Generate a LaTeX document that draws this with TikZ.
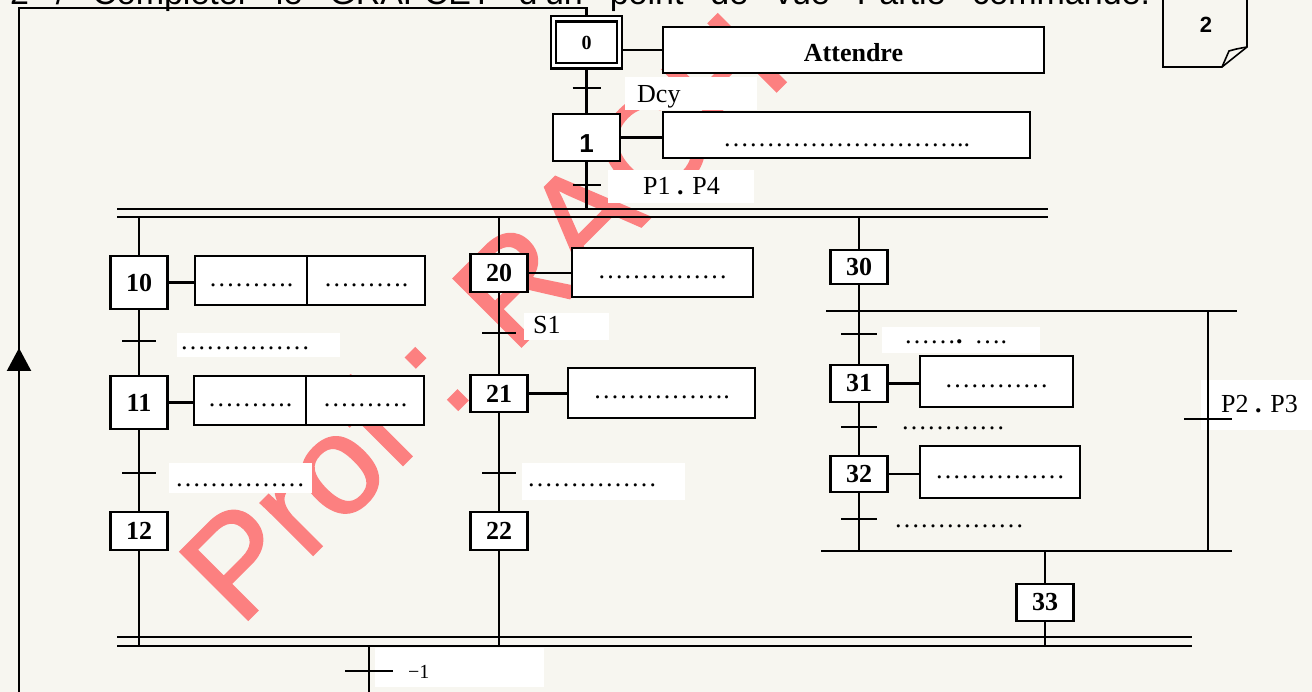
\documentclass[tikz,border=0pt]{standalone}
\usepackage{fontspec}
\setmainfont{Liberation Serif}
\newfontfamily\sansf{Liberation Sans}
\newfontfamily\stampf[FakeBold=1.3]{Liberation Sans}
\usetikzlibrary{calc,arrows.meta}
\definecolor{paper}{RGB}{247,246,240}
\definecolor{stamp}{RGB}{252,128,128}

\tikzset{
  ln/.style={line width=2.2pt},
  stepbox/.style={draw, line width=2.2pt, fill=white, inner sep=0pt, minimum width=57pt,
    font=\fontsize{26}{28}\selectfont\bfseries},
  actbox/.style={draw, line width=2.2pt, fill=white, inner sep=0pt,
    font=\fontsize{26}{28}\selectfont, text height=12pt, text depth=0pt},
  trlabel/.style={anchor=base west, inner sep=0pt, font=\fontsize{26}{28}\selectfont},
  patch/.style={fill=white},
}

\begin{document}
\begin{tikzpicture}[x=1pt,y=-1pt]
\useasboundingbox (0,0) rectangle (1312,692);
\fill[paper] (0,0) rectangle (1312,692);

% author stamp behind the chart
\node[anchor=base west, inner sep=0pt, rotate=45, text=stamp,
      font=\stampf\fontsize{140}{140}\selectfont] (stamp) at (240,628) {Prof : RACH};

% white text-box backgrounds of the receptivities
\fill[patch] (625,77) rectangle (757,110);
\fill[patch] (608,170) rectangle (754,203);
\fill[patch] (524,313) rectangle (609,340);
\fill[patch] (177,333) rectangle (340,357);
\fill[patch] (169,463) rectangle (312,493);
\fill[patch] (522,463) rectangle (685,500);
\fill[patch] (882,327) rectangle (1040,353);
\fill[patch] (1201,380) rectangle (1312,430);
\fill[patch] (375,648) rectangle (544,687);

% heading
\node[anchor=base west, inner sep=0pt, font=\sansf\fontsize{34}{36}\selectfont] (title) at (10,5)
  {\makebox[1140pt][s]{2 / Compléter le GRAFCET d’un point de vue Partie commande.}};

% page marker
\draw[line width=1.6pt] (1163,-5) -- (1163,67) -- (1222,67) -- (1247,47) -- (1247,-5);
\draw[line width=1.6pt] (1222,67) -- (1229,51) .. controls (1236,49) .. (1247,47);
\node[font=\sansf\bfseries\fontsize{22}{24}\selectfont] (page) at (1206,24.5) {2};

% steps
\node[stepbox, double, double distance=3pt, outer sep=3.6pt, minimum width=66pt, minimum height=47pt,
      font=\fontsize{20}{22}\selectfont\bfseries] (s0) at (586.5,42.5) {0};
\node[stepbox, minimum width=67pt, minimum height=47pt, text height=30pt,
      font=\sansf\bfseries\fontsize{26}{28}\selectfont] (s1) at (586.5,137.5) {1};

\node[stepbox, minimum height=53pt] (s10) at (139,282.5) {10};
\node[stepbox, minimum height=53pt] (s11) at (139,402.5) {11};
\node[stepbox, minimum height=38pt] (s12) at (139,531) {12};

\node[stepbox, minimum height=38pt] (s20) at (499,273) {20};
\node[stepbox, minimum height=37pt] (s21) at (499,393.5) {21};
\node[stepbox, minimum height=38pt] (s22) at (499,531) {22};

\node[stepbox, minimum height=34pt] (s30) at (859,267) {30};
\node[stepbox, minimum height=37pt] (s31) at (859,383.5) {31};
\node[stepbox, minimum height=36pt] (s32) at (859,474) {32};
\node[stepbox, minimum height=37pt] (s33) at (1045,602.5) {33};

% actions
\node[actbox, minimum width=381pt, minimum height=46pt, text height=24pt, font=\fontsize{26}{28}\selectfont\bfseries]
  (a0) at (853.5,50) {Attendre};
\node[actbox, minimum width=367pt, minimum height=46pt, text height=24pt] (a1) at (846.5,135) {………………………..};
\node[actbox, minimum width=112pt, minimum height=49pt] (a10a) at (251,280.5) {……….};
\node[actbox, minimum width=118pt, minimum height=49pt] (a10b) at (366,280.5) {……….};
\node[actbox, minimum width=112pt, minimum height=49pt] (a11a) at (250,400.5) {……….};
\node[actbox, minimum width=118pt, minimum height=49pt] (a11b) at (365,400.5) {……….};
\node[actbox, minimum width=181pt, minimum height=49pt] (a20) at (662.5,272.5) {……………};
\node[actbox, minimum width=187pt, minimum height=50pt] (a21) at (661.5,393) {…………….};
\node[actbox, minimum width=153pt, minimum height=51pt] (a31) at (996.5,381.5) {…………};
\node[actbox, minimum width=160pt, minimum height=52pt] (a32) at (1000,472) {……………};

% step -> action links
\draw[ln] (a0.west) -- (a0.west -| s0.east);
\draw[ln] (s1.east) -- (s1.east -| a1.west);
\draw[ln] (s10.east) -- (s10.east -| a10a.west);
\draw[ln] (s11.east) -- (s11.east -| a11a.west);
\draw[ln] (s20.east) -- (s20.east -| a20.west);
\draw[ln] (s21.east) -- (s21.east -| a21.west);
\draw[ln] (s31.east) -- (s31.east -| a31.west);
\draw[ln] (s32.east) -- (s32.east -| a32.west);

% bars
\coordinate (topA) at (117,209);  \coordinate (topAe) at (1048,209);
\coordinate (topB) at (117,217);  \coordinate (topBe) at (1048,217);
\coordinate (botA) at (117,637);  \coordinate (botAe) at (1192,637);
\coordinate (botB) at (117,646);  \coordinate (botBe) at (1192,646);
\coordinate (selA) at (826,311);  \coordinate (selAe) at (1237,311);
\coordinate (selB) at (821,551);  \coordinate (selBe) at (1232,551);
\draw[ln] (topA) -- (topAe);
\draw[ln] (topB) -- (topBe);
\draw[ln] (botA) -- (botAe);
\draw[ln] (botB) -- (botBe);
\draw[ln] (selA) -- (selAe);
\draw[ln] (selB) -- (selBe);

% vertical links
\draw[ln] (s0.south) -- (s1.north);
\draw[ln] (s1.south) -- (s1.south |- topA);
\draw[ln] (s10.north |- topB) -- (s10.north);
\draw[ln] (s10.south) -- (s11.north);
\draw[ln] (s11.south) -- (s12.north);
\draw[ln] (s12.south) -- (s12.south |- botB);
\draw[ln] (s20.north |- topB) -- (s20.north);
\draw[ln] (s20.south) -- (s21.north);
\draw[ln] (s21.south) -- (s22.north);
\draw[ln] (s22.south) -- (s22.south |- botB);
\draw[ln] (s30.north |- topB) -- (s30.north);
\draw[ln] (s30.south) -- (s31.north);
\draw[ln] (s31.south) -- (s32.north);
\draw[ln] (s32.south) -- (s32.south |- selB);
\coordinate (skipT) at (1208,311);
\coordinate (skipB) at (1208,551);
\draw[ln] (skipT) -- (skipB);
\draw[ln] (s33.north |- selB) -- (s33.north);
\draw[ln] (s33.south) -- (s33.south |- botB);
\coordinate (outB) at (369,646);
\coordinate (outE) at (369,700);
\draw[ln] (outB) -- (outE);

% return loop to the initial step
\coordinate (loopB) at (19,700);
\coordinate (loopT) at (19,8);
\draw[ln] (loopB) -- (loopT) -| (s0.north);
\draw[ln, -{Triangle[length=23pt,width=24pt]}] (19,372) -- (19,348);

% transitions
\coordinate (t01) at (586.5,88);
\coordinate (t1)  at (586.5,185);
\coordinate (t10) at (139,341);
\coordinate (t11) at (139,473);
\coordinate (t20) at (499,333);
\coordinate (t21) at (499,473);
\coordinate (t30) at (859,334);
\coordinate (t31) at (859,427);
\coordinate (t32) at (859,519);
\coordinate (tsk) at (1208,419);
\coordinate (tout) at (369,671);
\foreach \t/\h in {t01/14, t1/14, t10/17, t11/17, t20/17, t21/17, t30/18, t31/18, t32/18, tsk/24, tout/24}
  \draw[ln] ([xshift=-\h pt]\t) -- ([xshift=\h pt]\t);

% receptivities
\node[trlabel] (r01) at (637,103) {Dcy};
\node[trlabel] (r1)  at (643,195) {P1 \textbf{.} P4};
\node[trlabel] (r10) at (180,350) {……………};
\node[trlabel] (r11) at (175,486) {……………};
\node[trlabel] (r20) at (533,334) {S1};
\node[trlabel] (r21) at (527,486) {……………};
\node[trlabel] (r30) at (904,344) {……\textbf{.}\hspace{12pt}….};
\node[trlabel] (r31) at (901,430) {…………};
\node[trlabel] (r32) at (894,527) {……………};
\node[trlabel] (rsk) at (1221,413) {P2 \textbf{.} P3};
\node[trlabel, font=\fontsize{20}{22}\selectfont] (rout) at (408,678) {−1};
\end{tikzpicture}
\end{document}
